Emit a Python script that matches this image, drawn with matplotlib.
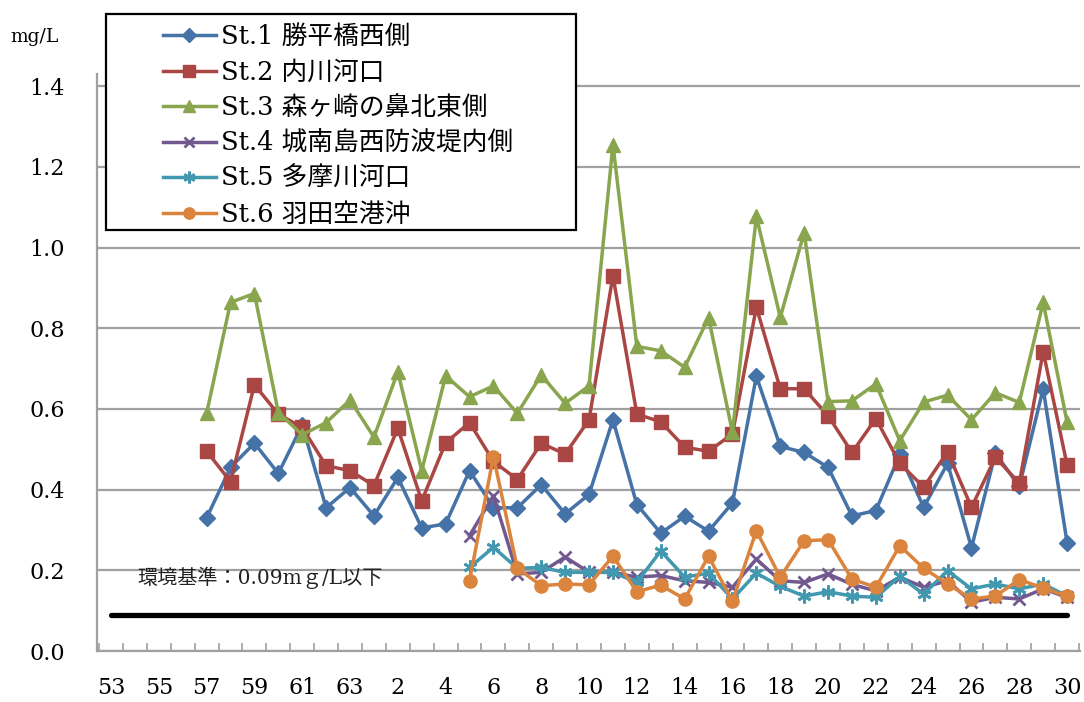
import numpy as np
import matplotlib
matplotlib.use("Agg")
import matplotlib.pyplot as plt
from matplotlib.patches import Rectangle

plt.rcParams['font.family'] = ['DejaVu Serif', 'Noto Sans CJK JP']

# ---- data ----
categories = [str(y) for y in range(53, 64)] + ['元'] + [str(y) for y in range(2, 31)]

st1_start = '57'
st1 = [0.33, 0.455, 0.515, 0.44, 0.56, 0.355, 0.405, 0.335, 0.43, 0.305, 0.315,
       0.447, 0.355, 0.355, 0.412, 0.34, 0.388, 0.573, 0.363, 0.292, 0.334, 0.297,
       0.367, 0.681, 0.507, 0.492, 0.455, 0.335, 0.348, 0.487, 0.356, 0.465, 0.256,
       0.490, 0.408, 0.650, 0.268]
st2_start = '57'
st2 = [0.495, 0.42, 0.66, 0.587, 0.554, 0.459, 0.447, 0.41, 0.552, 0.372, 0.516,
       0.566, 0.47, 0.425, 0.515, 0.488, 0.573, 0.93, 0.587, 0.568, 0.505, 0.495,
       0.538, 0.852, 0.650, 0.650, 0.583, 0.492, 0.576, 0.465, 0.406, 0.494, 0.356,
       0.480, 0.416, 0.742, 0.461]
st3_start = '57'
st3 = [0.589, 0.864, 0.886, 0.591, 0.536, 0.566, 0.622, 0.53, 0.692, 0.447, 0.682,
       0.630, 0.657, 0.589, 0.684, 0.614, 0.657, 1.255, 0.755, 0.744, 0.703, 0.826,
       0.542, 1.077, 0.827, 1.037, 0.618, 0.620, 0.662, 0.521, 0.617, 0.634, 0.573,
       0.640, 0.616, 0.864, 0.567]
st4_start = '5'
st4 = [0.286, 0.385, 0.191, 0.195, 0.233, 0.195, 0.195, 0.183, 0.187, 0.174, 0.170,
       0.158, 0.228, 0.174, 0.170, 0.191, 0.165, 0.149, 0.183, 0.158, 0.174, 0.121,
       0.133, 0.129, 0.154, 0.133]
st5_start = '5'
st5 = [0.207, 0.257, 0.205, 0.207, 0.195, 0.195, 0.195, 0.170, 0.248, 0.183, 0.193,
       0.129, 0.193, 0.160, 0.136, 0.147, 0.136, 0.133, 0.185, 0.141, 0.199, 0.154,
       0.166, 0.154, 0.166, 0.136]
st6_start = '5'
st6 = [0.174, 0.482, 0.205, 0.162, 0.166, 0.164, 0.235, 0.147, 0.163, 0.129, 0.235,
       0.123, 0.298, 0.183, 0.273, 0.276, 0.178, 0.158, 0.261, 0.205, 0.166, 0.129,
       0.136, 0.177, 0.156, 0.136]

labels = ['St.1 勝平橋西側', 'St.2 内川河口', 'St.3 森ヶ崎の鼻北東側',
          'St.4 城南島西防波堤内側', 'St.5 多摩川河口', 'St.6 羽田空港沖']
colors = ['#4572A7', '#AA4643', '#89A54E', '#71588F', '#4198AF', '#DB843D']
markers = ['D', 's', '^', 'x', (6, 2, 0), 'o']
msizes = [8.5, 9.5, 10.5, 9, 10, 9.5]

standard_value = 0.09
standard_label = '環境基準：0.09mｇ/L以下'
yticks = [0.0, 0.2, 0.4, 0.6, 0.8, 1.0, 1.2, 1.4]

# ---- figure ----
W, H = 1084, 702
fig = plt.figure(figsize=(W / 100, H / 100), dpi=100)
ax = fig.add_axes([97 / W, 1 - 651 / H, (1080 - 97) / W, (651 - 74) / H])

x = np.arange(len(categories))

def full(series, start):
    i0 = categories.index(start)
    arr = np.full(len(categories), np.nan)
    arr[i0:i0 + len(series)] = series
    return arr

series = [(st1, st1_start), (st2, st2_start), (st3, st3_start),
          (st4, st4_start), (st5, st5_start), (st6, st6_start)]

for (vals, start), lab, c, m, ms in zip(series, labels, colors, markers, msizes):
    mew = 2.0 if m in ('x',) or isinstance(m, tuple) else 1.0
    ax.plot(x, full(vals, start), color=c, lw=2.5, marker=m, ms=ms,
            markerfacecolor=c, markeredgecolor=c, markeredgewidth=mew,
            label=lab, zorder=3)

# environmental standard line
ax.plot([x[0], x[-1]], [standard_value, standard_value], color='black', lw=3.8,
        solid_capstyle='round', zorder=2)
ax.text(1.1, 0.182, standard_label, fontsize=14.5, va='center', ha='left',
        color='#222222', zorder=4)

ax.set_xlim(-0.586, 40.54)
ax.set_ylim(0, 1.43)
ax.set_yticks(yticks)
ax.set_yticklabels([f'{v:.1f}' for v in yticks])
ax.set_xticks(x[::2])
ax.set_xticklabels(categories[::2])
ax.set_xticks(np.arange(-0.5, len(categories), 1.0), minor=True)

ax.grid(axis='y', color='#a0a0a0', lw=1.6, zorder=0)
ax.set_axisbelow(True)
for s in ['top', 'right']:
    ax.spines[s].set_visible(False)
for s in ['left', 'bottom']:
    ax.spines[s].set_color('#a0a0a0')
    ax.spines[s].set_linewidth(1.6)

ax.tick_params(axis='y', length=0, pad=23, labelsize=16)
ax.tick_params(axis='x', which='major', length=0, pad=19, labelsize=16)
ax.tick_params(axis='x', which='minor', direction='in', length=6, width=1.2,
               color='#a0a0a0')

fig.text(10 / W, 1 - 37 / H, 'mg/L', fontsize=13.5, va='center', ha='left')

# legend frame + legend
frame = Rectangle((106 / W, 1 - 230 / H), 470 / W, 216 / H, transform=fig.transFigure,
                  facecolor='white', edgecolor='black', lw=1.6, zorder=1)
fig.patches.append(frame)
handles, labs = ax.get_legend_handles_labels()
leg = fig.legend(handles, labs, loc='upper left',
                 bbox_to_anchor=(163 / W, 1 - 24 / H), frameon=False,
                 fontsize=18.5, handlelength=2.05, handletextpad=0.22,
                 labelspacing=0.41, borderpad=0, borderaxespad=0, markerscale=0.85)
leg.set_zorder(5)

fig.savefig('out.png', dpi=100)
